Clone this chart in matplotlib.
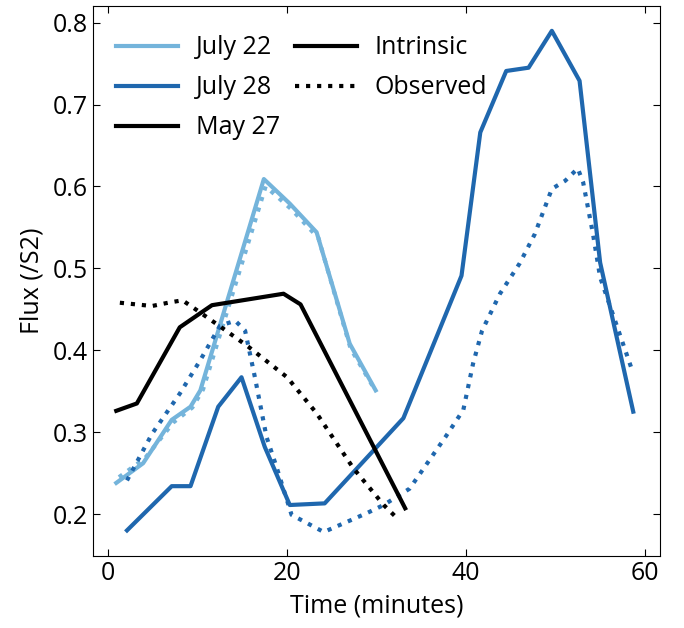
import matplotlib
matplotlib.use('Agg')
import matplotlib.pyplot as plt
from matplotlib.lines import Line2D

plt.rcParams['font.family'] = ['Open Sans', 'DejaVu Sans']

# July 22
j22_t = [0.9, 3.9, 7.1, 9.2, 10.3, 17.4, 20.3, 23.3, 27.0, 29.9]
j22_int = [0.238, 0.262, 0.315, 0.331, 0.351, 0.609, 0.579, 0.544, 0.408, 0.351]
j22_obs_t = [1.2, 4.1, 7.3, 9.4, 10.6, 17.6, 20.5, 23.5, 27.1, 29.8]
j22_obs = [0.245, 0.268, 0.312, 0.330, 0.352, 0.600, 0.572, 0.537, 0.402, 0.352]

# July 28
j28_t = [2.1, 7.1, 9.2, 12.3, 14.9, 17.5, 20.3, 24.2, 33.0, 39.5, 41.6, 44.5, 47.0, 49.6, 52.7, 55.0, 58.7]
j28_int = [0.180, 0.234, 0.234, 0.331, 0.367, 0.282, 0.211, 0.213, 0.317, 0.491, 0.666, 0.741, 0.745, 0.790,
           0.729, 0.507, 0.325]
j28_obs_t = [2.1, 4.9, 8.0, 10.3, 12.5, 14.2, 15.3, 16.4, 17.7, 18.8, 20.5, 24.1, 28.9, 30.8, 33.7, 37.7,
             39.7, 40.8, 41.8, 43.8, 46.0, 47.7, 49.6, 51.1, 52.5, 53.1, 54.2, 55.0, 58.5]
j28_obs = [0.241, 0.298, 0.347, 0.388, 0.430, 0.436, 0.424, 0.367, 0.294, 0.258, 0.199, 0.178, 0.201, 0.211,
           0.231, 0.294, 0.327, 0.384, 0.424, 0.469, 0.506, 0.542, 0.597, 0.607, 0.622, 0.605, 0.542, 0.489,
           0.378]

# May 27
m27_t = [0.9, 3.2, 8.0, 11.6, 19.6, 21.5, 33.2]
m27_int = [0.326, 0.335, 0.428, 0.455, 0.469, 0.456, 0.207]
m27_obs_t = [1.3, 4.9, 6.7, 8.3, 9.9, 12.9, 15.7, 20.0, 23.3, 27.4, 30.8, 32.1]
m27_obs = [0.458, 0.454, 0.458, 0.461, 0.449, 0.426, 0.404, 0.367, 0.323, 0.256, 0.211, 0.197]

light = '#74b4db'
dark = '#1f67ae'
lw = 3.0
fs = 18

fig, ax = plt.subplots(figsize=(6.84, 6.28), dpi=100)
fig.subplots_adjust(left=0.136, right=0.965, top=0.99, bottom=0.115)

ax.plot(j22_obs_t, j22_obs, ':', color=light, lw=lw)
ax.plot(j22_t, j22_int, '-', color=light, lw=lw)
ax.plot(j28_obs_t, j28_obs, ':', color=dark, lw=lw)
ax.plot(j28_t, j28_int, '-', color=dark, lw=lw)
ax.plot(m27_obs_t, m27_obs, ':', color='black', lw=lw)
ax.plot(m27_t, m27_int, '-', color='black', lw=lw)

ax.set_xlim(-1.7, 61.7)
ax.set_ylim(0.149, 0.82)
ax.set_xticks([0, 20, 40, 60])
ax.set_yticks([0.2, 0.3, 0.4, 0.5, 0.6, 0.7, 0.8])
ax.tick_params(direction='in', top=True, right=True, labelsize=fs, length=5)
ax.set_xlabel('Time (minutes)', fontsize=fs, labelpad=6)
ax.set_ylabel('Flux (/S2)', fontsize=fs, labelpad=6)

handles = [Line2D([], [], color=light, lw=lw),
           Line2D([], [], color=dark, lw=lw),
           Line2D([], [], color='black', lw=lw),
           Line2D([], [], color='black', lw=lw, ls='-'),
           Line2D([], [], color='black', lw=lw, ls=':')]
labels = ['July 22', 'July 28', 'May 27', 'Intrinsic', 'Observed']
ax.legend(handles, labels, ncol=2, frameon=False, fontsize=fs, loc='upper left',
          bbox_to_anchor=(0, 0.988), handlelength=2.5, handletextpad=0.7,
          columnspacing=0.6, borderaxespad=0.5, labelspacing=0.6)

fig.savefig('out.png', dpi=100)
